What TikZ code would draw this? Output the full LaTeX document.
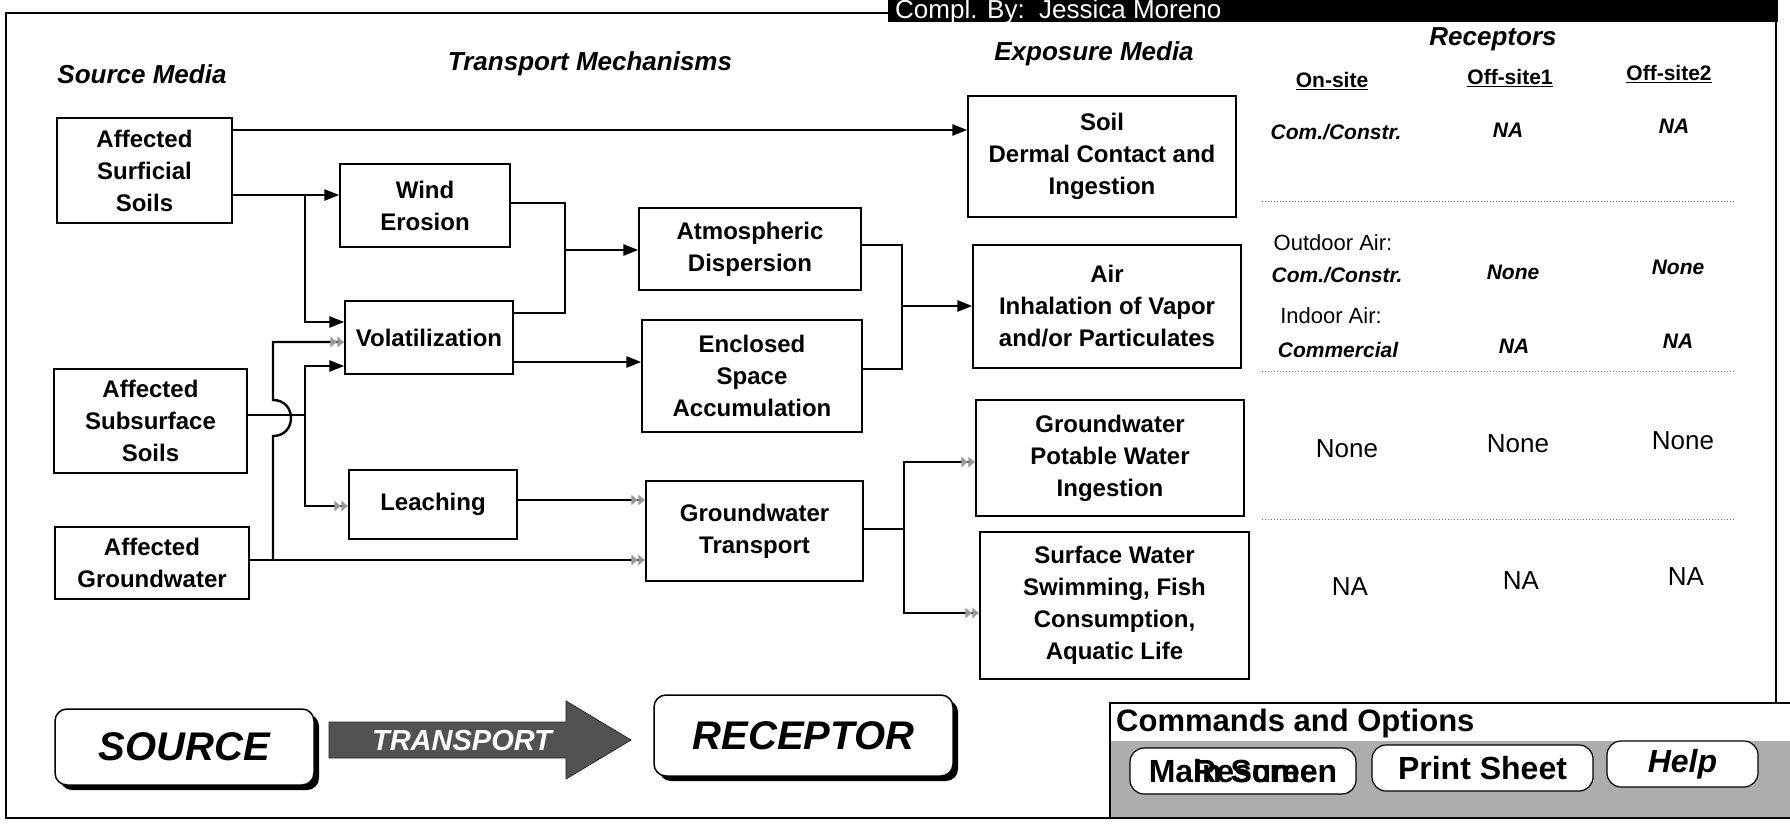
\documentclass[tikz,border=0pt]{standalone}
\usepackage{fontspec}
\setmainfont{Liberation Sans}
\usetikzlibrary{arrows.meta,shadows}
\newcommand\flowbox[6]{\node[box, minimum width={(#4)-(#2)}, minimum height={(#5)-(#3)}] (#1) at ({((#2)+(#4))/2},{((#3)+(#5))/2}) {#6};}
\begin{document}
\begin{tikzpicture}[x=1pt,y=-1pt,
  box/.style={draw, line width=1.3pt, align=center, inner sep=0pt, fill=white, font=\bfseries\fontsize{24}{32}\selectfont},
  conn/.style={line width=2.4pt},
  blk/.style={conn, -{Triangle[length=15pt,width=11pt]}},
  gry/.style={conn, -{Latex[length=7pt,width=12pt,color=black!40]Latex[length=7pt,width=12pt,color=black!40]}},
  hdr/.style={font=\bfseries\itshape\fontsize{26}{30}\selectfont},
  rh/.style={font=\bfseries\fontsize{21}{24}\selectfont},
  ri/.style={font=\bfseries\itshape\fontsize{21}{24}\selectfont},
  rr/.style={font=\fontsize{22}{24}\selectfont},
  rn/.style={font=\fontsize{26}{28}\selectfont},
  sep/.style={line width=1pt, black!55, dotted},
  rbox/.style={draw, line width=1.5pt, rounded corners=12pt, fill=white,
    drop shadow={shadow xshift=5pt, shadow yshift=-5pt, opacity=1, fill=black},
    font=\bfseries\itshape\fontsize{40}{44}\selectfont},
  btn/.style={draw, line width=1.2pt, fill=white, rounded corners=14pt, inner sep=0pt,
    minimum height=46pt, font=\bfseries\fontsize{32}{34}\selectfont},
  frame/.style={line width=1.3pt}]
\useasboundingbox (0,0) rectangle (1790,832);
\fill[white] (0,0) rectangle (1790,832);

% frame and header bar
\draw[frame] (1110,818) -- (6,818) -- (6,13) -- (888,13);
\draw[frame] (1776,22) -- (1776,703);
\fill[black] (888,0) rectangle (1778,22);
\node[anchor=base west, text=white, inner sep=0pt, font=\fontsize{26}{28}\selectfont] (compl) at (895,19) {Compl. By:\ \ Jessica Moreno};

% column headers
\node[hdr] (hsrc) at (142,74) {Source Media};
\node[hdr] (htr) at (590,64) {Transport Mechanisms};
\node[hdr] (hexp) at (1094,54) {Exposure Media};
\node[hdr] (hrec) at (1493,39) {Receptors};

% boxes
\flowbox{surf}{57}{118}{232}{223}{Affected\\Surficial\\Soils}
\flowbox{subs}{54}{369}{247}{473}{Affected\\Subsurface\\Soils}
\flowbox{gw}{55}{527}{249}{599}{Affected\\Groundwater}
\flowbox{wind}{340}{164}{510}{247}{Wind\\Erosion}
\flowbox{vol}{345}{301}{513}{374}{Volatilization}
\flowbox{leach}{349}{470}{517}{539}{Leaching}
\flowbox{atm}{639}{208}{861}{290}{Atmospheric\\Dispersion}
\flowbox{encl}{642}{320}{862}{432}{Enclosed\\Space\\Accumulation}
\flowbox{gwt}{646}{481}{863}{581}{Groundwater\\Transport}
\flowbox{soil}{968}{96}{1236}{217}{Soil\\Dermal Contact and\\Ingestion}
\flowbox{air}{973}{245}{1241}{368}{Air\\Inhalation of Vapor\\and/or Particulates}
\flowbox{gwp}{976}{400}{1244}{516}{Groundwater\\Potable Water\\Ingestion}
\flowbox{sw}{980}{532}{1249}{679}{Surface Water\\Swimming, Fish\\Consumption,\\Aquatic Life}

% level coordinates
\coordinate (ya) at (0,130);
\coordinate (yb) at (0,195);
\coordinate (ja) at (305,195);
\coordinate (yc) at (0,322);
\coordinate (yd) at (0,342);
\coordinate (ye) at (0,366);
\coordinate (jb) at (305,415);
\coordinate (yg) at (0,506);
\coordinate (jc) at (273,560);
\coordinate (k1) at (565,203);
\coordinate (k2) at (565,313);
\coordinate (k3) at (565,250);
\coordinate (yl) at (0,362);
\coordinate (ym) at (0,500);
\coordinate (m1) at (902,245);
\coordinate (m2) at (902,369);
\coordinate (m3) at (902,306);
\coordinate (n1) at (904,529);
\coordinate (n2) at (904,462);
\coordinate (n3) at (904,613);

% connectors
\draw[blk] (surf.east |- ya) -- (soil.west |- ya);
\draw[blk] (surf.east |- yb) -- (wind.west |- yb);
\draw[blk] (ja) |- (vol.west |- yc);
\draw[conn] (subs.east |- jb) -- (jb);
\draw[blk] (jb) |- (vol.west |- ye);
\draw[gry] (jb) |- (leach.west |- yg);
\draw[gry] (gw.east |- jc) -- (gwt.west |- jc);
\draw[gry] (jc) -- (273,436) .. controls (297,436) and (297,400) .. (273,400) |- (vol.west |- yd);
\draw[conn] (wind.east |- k1) -- (k1) -- (k2) -- (vol.east |- k2);
\draw[blk] (k3) -- (atm.west |- k3);
\draw[blk] (vol.east |- yl) -- (encl.west |- yl);
\draw[gry] (leach.east |- ym) -- (gwt.west |- ym);
\draw[conn] (atm.east |- m1) -- (m1) -- (m2) -- (encl.east |- m2);
\draw[blk] (m3) -- (air.west |- m3);
\draw[conn] (gwt.east |- n1) -- (n1);
\draw[gry] (n1) |- (gwp.west |- n2);
\draw[gry] (n1) |- (sw.west |- n3);

% receptor table
\node[rh] (on) at (1332,81) {\underline{On-site}};
\node[rh] (off1) at (1510,78) {\underline{Off-site1}};
\node[rh] (off2) at (1669,74) {\underline{Off-site2}};
\node[ri] (r11) at (1336,132) {Com./Constr.};
\node[ri] (r12) at (1508,130) {NA};
\node[ri] (r13) at (1674,126) {NA};
\draw[sep] (1262,201) -- (1735,201);
\node[rr] (out) at (1333,243) {Outdoor Air:};
\node[ri] (r21) at (1337,275) {Com./Constr.};
\node[ri] (r22) at (1513,272) {None};
\node[ri] (r23) at (1678,267) {None};
\node[rr] (ind) at (1331,316) {Indoor Air:};
\node[ri] (r31) at (1338,350) {Commercial};
\node[ri] (r32) at (1514,346) {NA};
\node[ri] (r33) at (1678,341) {NA};
\draw[sep] (1262,371) -- (1735,371);
\node[rn] (r41) at (1347,449) {None};
\node[rn] (r42) at (1518,444) {None};
\node[rn] (r43) at (1683,441) {None};
\draw[sep] (1262,519) -- (1735,519);
\node[rn] (r51) at (1350,587) {NA};
\node[rn] (r52) at (1521,581) {NA};
\node[rn] (r53) at (1686,577) {NA};

% source - transport - receptor
\node[rbox, minimum width=259pt, minimum height=76pt] (source) at (184.5,747) {SOURCE};
\fill[black!68, draw=black!85, line width=0.8pt] (329,722) -- (566,722) -- (566,701) -- (631,740) -- (566,779) -- (566,758) -- (329,758) -- cycle;
\node[text=white, font=\bfseries\itshape\fontsize{29}{30}\selectfont] (trans) at (462,741) {TRANSPORT};
\node[rbox, minimum width=299pt, minimum height=81pt] (receptor) at (803.5,735.5) {RECEPTOR};

% commands panel
\fill[white] (1110,703) rectangle (1800,818);
\fill[black!32] (1110,741) rectangle (1800,818);
\draw[frame] (1110,703) rectangle (1800,818);
\node[anchor=base west, inner sep=0pt, font=\bfseries\fontsize{31}{33}\selectfont] (cmd) at (1116,731) {Commands and Options};
\node[btn, minimum width=226pt] (b1) at (1243,771) {\rlap{\phantom{Ma}Resume}Main Screen};
\node[btn, minimum width=221pt] (b2) at (1482.5,768) {Print Sheet};
\node[btn, minimum width=151pt, font=\bfseries\itshape\fontsize{32}{34}\selectfont] (b3) at (1682.5,764) {Help};
\end{tikzpicture}
\end{document}
